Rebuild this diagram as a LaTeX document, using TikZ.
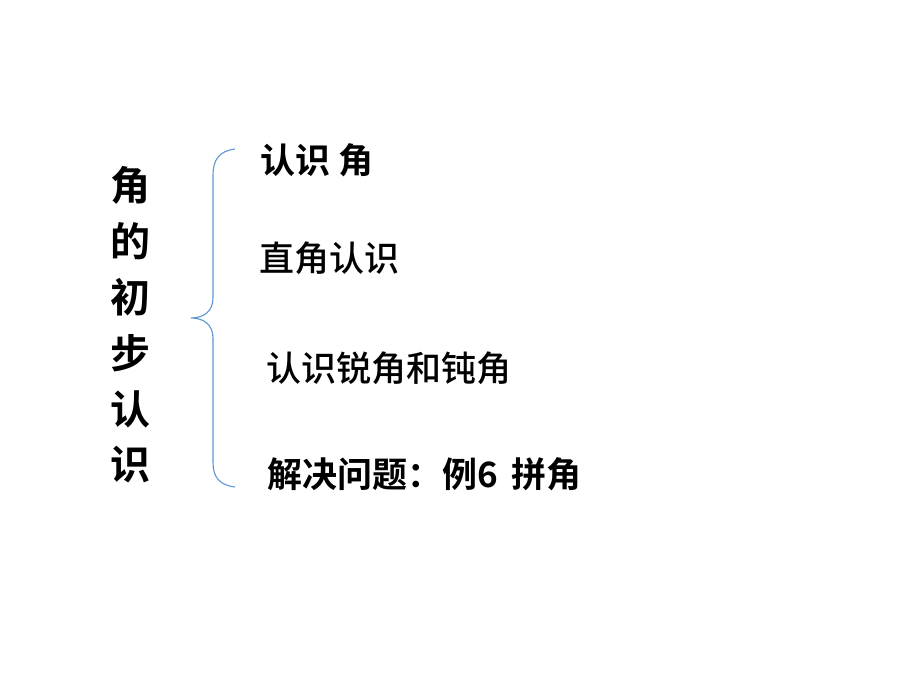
\documentclass[tikz,border=0pt]{standalone}
\usepackage{fontspec}
\newfontfamily\cjk{Noto Sans CJK SC Medium}
\newfontfamily\cjkbold{Noto Sans CJK SC Bold}
\definecolor{bracecol}{RGB}{91,150,212}
\begin{document}
\begin{tikzpicture}[x=1pt,y=-1pt,
  title node/.style={font=\cjkbold\fontsize{40}{44}\selectfont,inner sep=0pt},
  item node/.style={anchor=west,inner sep=0pt,font=\cjk\fontsize{35}{39}\selectfont},
  item bold/.style={item node,font=\cjkbold\fontsize{35}{39}\selectfont}]%
  \useasboundingbox (0,0) rectangle (920,690);
  \pgfmathsetmacro{\ystep}{56}
  \foreach \c[count=\i from 0] in {角,的,初,步,认,识}
  \node[title node] (t\i) at (130, 185+\i*\ystep) {\c};

  \node[item bold] (a) at (260,160) {认识\hspace{8pt}角};
  \node[item node] (b) at (259,258) {直角认识};
  \node[item node] (c) at (266,368) {认识锐角和钝角};
  \node[item bold] (d) at (267,474) {解决问题：例6\hspace{14pt}拼角};

  \coordinate (top) at (235,149);
  \coordinate (tip) at (191,318);
  \coordinate (bot) at (235,487);
  \draw [bracecol,line width=1.1pt] (top) .. controls (219,151) and (213,160) .. (213,175)
    -- (213,298) .. controls (213,311) and (204,318) .. (tip)
    .. controls (204,318) and (213,325) .. (213,338)
    -- (213,462) .. controls (213,477) and (219,485) .. (bot);
\end{tikzpicture}
\end{document}
